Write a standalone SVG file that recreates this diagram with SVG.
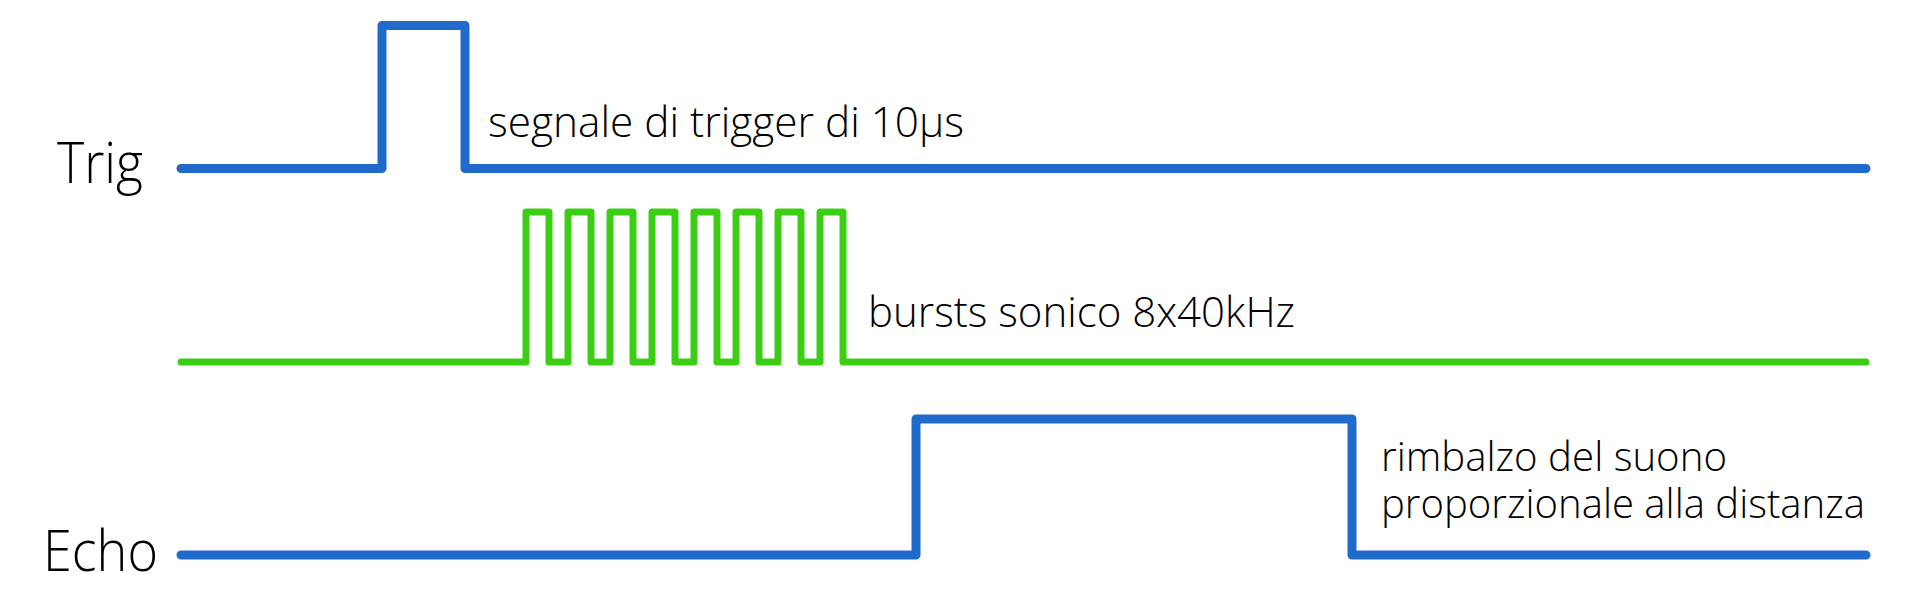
<svg xmlns="http://www.w3.org/2000/svg" width="1920" height="611" viewBox="0 0 1920 611">
  <style>
    .wave { fill: none; stroke-linejoin: round; stroke-linecap: round; }
    .blue { stroke: #206ACC; stroke-width: 9; }
    .green { stroke: #3CCE14; stroke-width: 7; }
    .lbl { font-family: "Open Sans", "Liberation Sans", sans-serif; font-weight: 300; fill: #000; }
    .big { font-size: 57px; }
    .note { font-size: 43px; }
    .note2 { font-size: 41px; }
  </style>
  <rect width="1920" height="611" fill="#ffffff"/>
  <g id="trig">
    <text class="lbl big" x="57" y="183" textLength="86" lengthAdjust="spacingAndGlyphs">Trig</text>
    <path class="wave blue" d="M181 168.5 H382 V25.5 H465 V168.5 H1866"/>
    <text class="lbl note" x="488" y="137" textLength="476" lengthAdjust="spacingAndGlyphs">segnale di trigger di 10µs</text>
  </g>
  <g id="burst">
    <path class="wave green" d="M181 362 H526 V212 H549 V362 H568 V212 H591 V362 H610 V212 H633 V362 H652 V212 H675 V362 H694 V212 H717 V362 H736 V212 H759 V362 H778 V212 H801 V362 H820 V212 H843 V362 H1866"/>
    <text class="lbl note" x="868" y="327" textLength="427" lengthAdjust="spacingAndGlyphs">bursts sonico 8x40kHz</text>
  </g>
  <g id="echo">
    <text class="lbl big" x="43" y="571" textLength="115" lengthAdjust="spacingAndGlyphs">Echo</text>
    <path class="wave blue" d="M181 555 H916 V419 H1352 V555 H1866"/>
    <text class="lbl note2"><tspan x="1381" y="471" textLength="346" lengthAdjust="spacingAndGlyphs">rimbalzo del suono</tspan><tspan x="1381" y="518" textLength="484" lengthAdjust="spacingAndGlyphs">proporzionale alla distanza</tspan></text>
  </g>
</svg>
